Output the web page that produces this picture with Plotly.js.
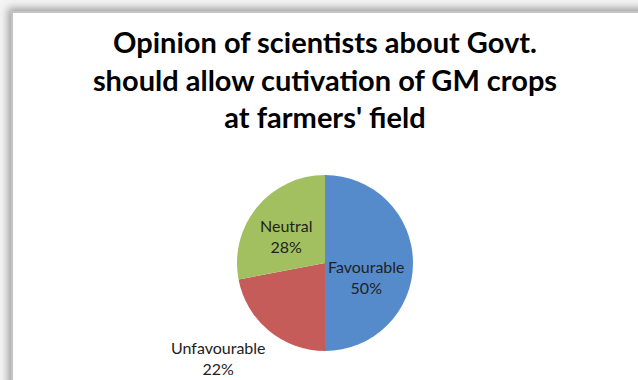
<!DOCTYPE html>
<html>
<head>
<meta charset="utf-8">
<script src="https://cdn.plot.ly/plotly-3.0.1.min.js"></script>
<style>
  html, body { margin: 0; padding: 0; background: #ffffff; overflow: hidden; }
  #wrap { position: relative; width: 638px; height: 380px; overflow: hidden; background: #f4f4f4; }
  #frame {
    position: absolute; left: 11px; top: 11px; width: 700px; height: 460px;
    background: #ffffff;
    border-left: 2px solid #c4c4c4; border-top: 2px solid #c4c4c4;
    box-shadow: -3px -3px 8px rgba(0,0,0,0.35);
  }
  #chart { position: absolute; left: 0; top: 0; width: 638px; height: 380px; }
</style>
</head>
<body>
<div id="wrap">
  <div id="frame"></div>
  <div id="chart"></div>
</div>
<script>
// Survey answers: share of scientists by opinion
const categories = ['Favourable', 'Unfavourable', 'Neutral'];
const shares = [50, 22, 28];
const sliceColors = ['#558BCB', '#C65C59', '#A2C05F'];

const chartTitle = 'Opinion of scientists about Govt.<br>should allow cutivation of GM crops<br>at farmers\' field';

const W = 638, H = 380;
const cx = 325, cy = 263, r = 88;

// Pixel centres of the data labels, one per slice (same order as categories)
const labelSpots = [[366, 277], [218, 358], [286, 236]];

const labelFont = { family: 'Lato, "Open Sans", sans-serif', size: 16, color: '#222222' };

const trace = {
  type: 'pie',
  labels: categories,
  values: shares,
  sort: false,
  direction: 'clockwise',
  rotation: 0,
  marker: { colors: sliceColors, line: { width: 0 } },
  textinfo: 'none',
  hoverinfo: 'none',
  showlegend: false,
  domain: {
    x: [(cx - r) / W, (cx + r) / W],
    y: [(H - cy - r) / H, (H - cy + r) / H]
  }
};

const total = shares.reduce((a, b) => a + b, 0);
const annotations = categories.map((name, i) => ({
  xref: 'paper', yref: 'paper',
  x: labelSpots[i][0] / W, y: 1 - labelSpots[i][1] / H,
  xanchor: 'center', yanchor: 'middle',
  text: name + '<br>' + Math.round(shares[i] / total * 100) + '%',
  showarrow: false,
  font: labelFont
}));

const layout = {
  width: W, height: H,
  margin: { l: 0, r: 0, t: 0, b: 0 },
  paper_bgcolor: 'rgba(0,0,0,0)',
  plot_bgcolor: 'rgba(0,0,0,0)',
  showlegend: false,
  annotations: annotations,
  title: {
    text: '<b>' + chartTitle + '</b>',
    x: 325 / W, xanchor: 'center',
    y: 1 - 53 / H, yanchor: 'top',
    font: { family: 'Lato, "Open Sans", sans-serif', size: 29, color: '#000000' }
  }
};

Plotly.newPlot('chart', [trace], layout, { displayModeBar: false, staticPlot: true });
</script>
</body>
</html>
